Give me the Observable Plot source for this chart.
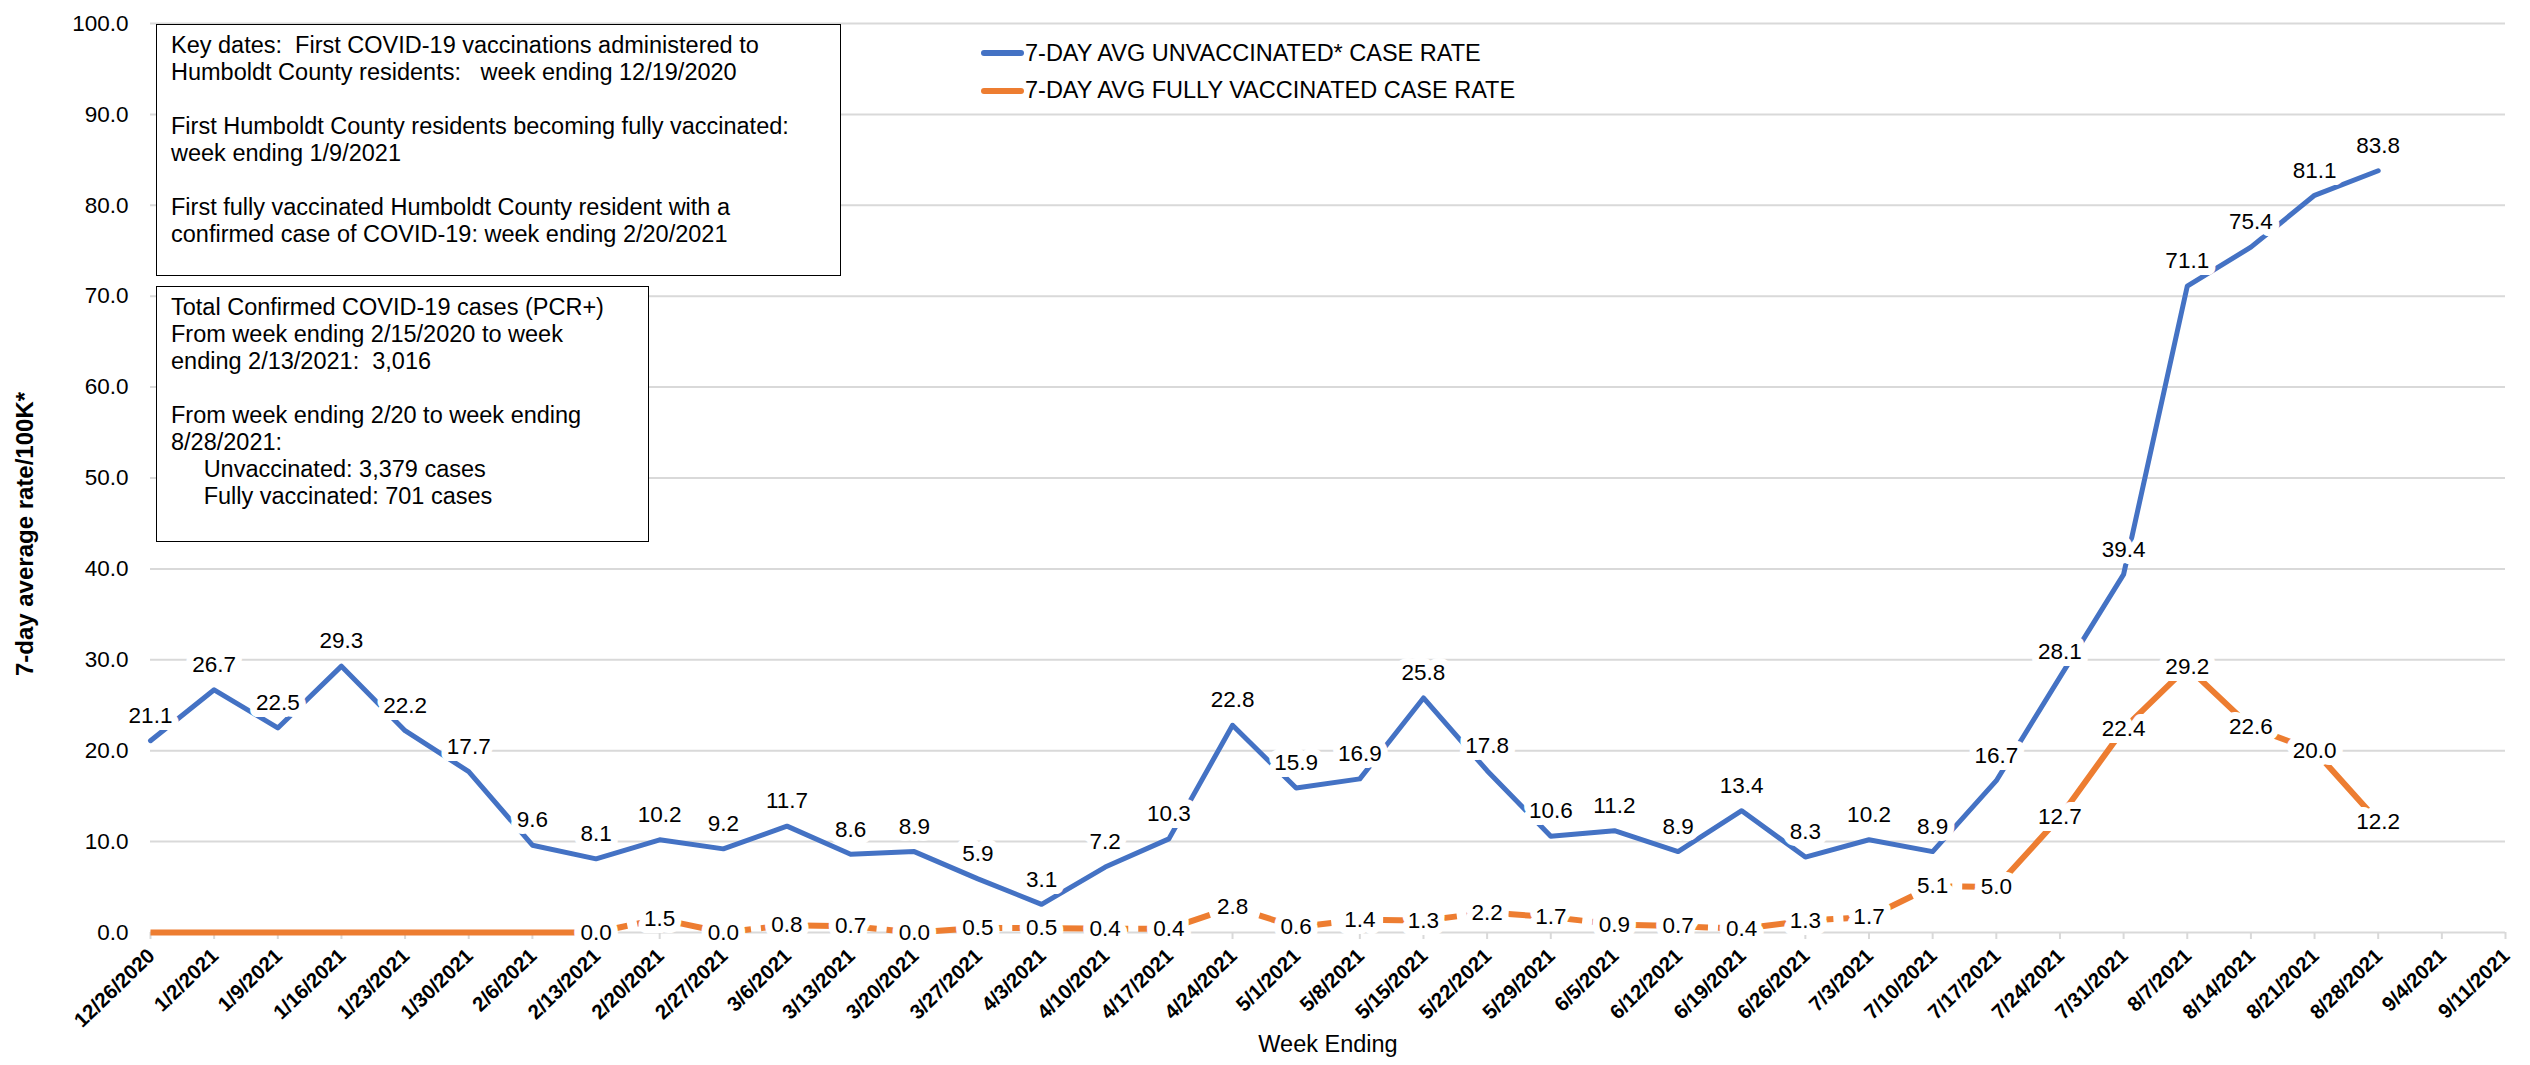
<!DOCTYPE html>
<html>
<head>
<meta charset="utf-8">
<script src="https://cdn.jsdelivr.net/npm/d3@7"></script>
<script src="https://cdn.jsdelivr.net/npm/@observablehq/plot@0.6"></script>
<style>
  html, body { margin: 0; padding: 0; background: #fff; }
  body { font-family: "Liberation Sans", Arial, sans-serif; color: #000; }
  #wrap { position: relative; width: 2530px; height: 1065px; overflow: hidden; }
  #wrap svg { position: absolute; left: 0; top: 0; }
  .box { position: absolute; background: #fff; border: 1.5px solid #000; box-sizing: border-box;
         font-size: 23.5px; line-height: 27px; white-space: pre; padding: 7px 0 0 14px; color: #000; }
  .legend { position: absolute; font-size: 23.5px; color: #000; }
  .legend .row { display: flex; align-items: center; height: 37.5px; }
  .legend .sw { width: 43px; height: 6px; border-radius: 3px; margin-right: 1px; }
</style>
</head>
<body>
<div id="wrap"></div>
<script>
// ---- data ----
const weeks = ["12/26/2020","1/2/2021","1/9/2021","1/16/2021","1/23/2021","1/30/2021","2/6/2021","2/13/2021",
  "2/20/2021","2/27/2021","3/6/2021","3/13/2021","3/20/2021","3/27/2021","4/3/2021","4/10/2021","4/17/2021",
  "4/24/2021","5/1/2021","5/8/2021","5/15/2021","5/22/2021","5/29/2021","6/5/2021","6/12/2021","6/19/2021",
  "6/26/2021","7/3/2021","7/10/2021","7/17/2021","7/24/2021","7/31/2021","8/7/2021","8/14/2021","8/21/2021",
  "8/28/2021","9/4/2021","9/11/2021"];
const unvaccinated = [21.1,26.7,22.5,29.3,22.2,17.7,9.6,8.1,10.2,9.2,11.7,8.6,8.9,5.9,3.1,7.2,10.3,22.8,15.9,16.9,
  25.8,17.8,10.6,11.2,8.9,13.4,8.3,10.2,8.9,16.7,28.1,39.4,71.1,75.4,81.1,83.8];
const fullyVaccinated = [0,0,0,0,0,0,0,0.0,1.5,0.0,0.8,0.7,0.0,0.5,0.5,0.4,0.4,2.8,0.6,1.4,1.3,2.2,1.7,0.9,0.7,0.4,
  1.3,1.7,5.1,5.0,12.7,22.4,29.2,22.6,20.0,12.2];
const yTicks = [0,10,20,30,40,50,60,70,80,90,100];
const seriesNames = ["7-DAY AVG UNVACCINATED* CASE RATE", "7-DAY AVG FULLY VACCINATED CASE RATE"];
const vaxLabelFrom = "2/13/2021";   // first week with a confirmed fully vaccinated case
const vaxDashedTo = "7/17/2021";
const yTitle = "7-day average rate/100K*";
const xTitle = "Week Ending";
const box1Lines = [
  "Key dates:  First COVID-19 vaccinations administered to",
  "Humboldt County residents:   week ending 12/19/2020",
  "",
  "First Humboldt County residents becoming fully vaccinated:",
  "week ending 1/9/2021",
  "",
  "First fully vaccinated Humboldt County resident with a",
  "confirmed case of COVID-19: week ending 2/20/2021"
];
const box2Lines = [
  "Total Confirmed COVID-19 cases (PCR+)",
  "From week ending 2/15/2020 to week",
  "ending 2/13/2021:  3,016",
  "",
  "From week ending 2/20 to week ending",
  "8/28/2021:",
  "     Unvaccinated: 3,379 cases",
  "     Fully vaccinated: 701 cases"
];

// ---- build tables ----
const blue = "#4472C4", orange = "#ED7D31", grid = "#d9d9d9";
const unvax = unvaccinated.map((v, i) => ({week: weeks[i], v}));
const vax = fullyVaccinated.map((v, i) => ({week: weeks[i], v, i}));
const iFrom = weeks.indexOf(vaxLabelFrom), iTo = weeks.indexOf(vaxDashedTo);
const vaxSolid1 = vax.filter(d => d.i <= iFrom);
const vaxDashed = vax.filter(d => d.i >= iFrom && d.i <= iTo);
const vaxSolid2 = vax.filter(d => d.i >= iTo);
const vaxLabeled = vax.filter(d => d.i >= iFrom);

const font = "'Liberation Sans', Arial, sans-serif";
const chart = Plot.plot({
  width: 2530, height: 1065,
  marginLeft: 150, marginRight: 25, marginTop: 23, marginBottom: 133,
  style: {fontFamily: font, fontSize: "22.5px", color: "#000", background: "transparent"},
  x: {type: "point", domain: weeks, padding: 0, round: false},
  y: {domain: [0, 100]},
  marks: [
    Plot.gridY(yTicks.filter(t => t > 0), {stroke: grid, strokeOpacity: 1, strokeWidth: 2}),
    Plot.ruleY([0], {stroke: grid, strokeWidth: 2}),
    Plot.axisX({tickSize: 7, tickFormat: () => "", stroke: grid, strokeWidth: 2, label: null}),
    Plot.axisY(yTicks, {tickSize: 0, tickPadding: 22, tickFormat: d => d.toFixed(1), fontSize: 22.5, label: null}),
    Plot.text(weeks, {x: d => d, frameAnchor: "bottom", dx: 1, dy: 20, rotate: -44, textAnchor: "end",
      lineAnchor: "middle", fontSize: 20.5, fontWeight: "bold", fill: "#000"}),
    Plot.text([yTitle], {frameAnchor: "left", dx: -125, dy: 56, rotate: -90, textAnchor: "middle",
      fontWeight: "bold", fontSize: 24, fill: "#000"}),
    Plot.text([xTitle], {frameAnchor: "bottom", dy: 119, fontSize: 23.5, fill: "#000"}),
    Plot.line(vaxSolid1, {x: "week", y: "v", stroke: orange, strokeWidth: 6, strokeLinecap: "butt"}),
    Plot.line(vaxDashed, {x: "week", y: "v", stroke: orange, strokeWidth: 6, strokeDasharray: "32,10", strokeLinecap: "butt"}),
    Plot.line(vaxSolid2, {x: "week", y: "v", stroke: orange, strokeWidth: 6, strokeLinecap: "butt"}),
    Plot.line(unvax, {x: "week", y: "v", stroke: blue, strokeWidth: 5}),
    Plot.text(vaxLabeled, {x: "week", y: "v", text: d => d.v.toFixed(1), fontSize: 22.5, fill: "#000",
      stroke: "white", strokeWidth: 14, lineAnchor: "middle"}),
    Plot.text(unvax, {x: "week", y: "v", text: d => d.v.toFixed(1), dy: -25, fontSize: 22.5, fill: "#000",
      stroke: "white", strokeWidth: 14, lineAnchor: "middle"})
  ]
});
const wrap = document.getElementById("wrap");
wrap.appendChild(chart);

function addBox(lines, left, top, width, height) {
  const d = document.createElement("div");
  d.className = "box";
  Object.assign(d.style, {left: left + "px", top: top + "px", width: width + "px", height: height + "px"});
  d.textContent = lines.join("\n");
  wrap.appendChild(d);
}
addBox(box1Lines, 156, 24, 685, 252);
addBox(box2Lines, 156, 286, 493, 256);

const lg = document.createElement("div");
lg.className = "legend";
Object.assign(lg.style, {left: "981px", top: "34.5px"});
[blue, orange].forEach((c, i) => {
  const row = document.createElement("div");
  row.className = "row";
  const sw = document.createElement("span");
  sw.className = "sw"; sw.style.background = c;
  const t = document.createElement("span");
  t.textContent = seriesNames[i];
  row.appendChild(sw); row.appendChild(t);
  lg.appendChild(row);
});
wrap.appendChild(lg);
</script>
</body>
</html>
